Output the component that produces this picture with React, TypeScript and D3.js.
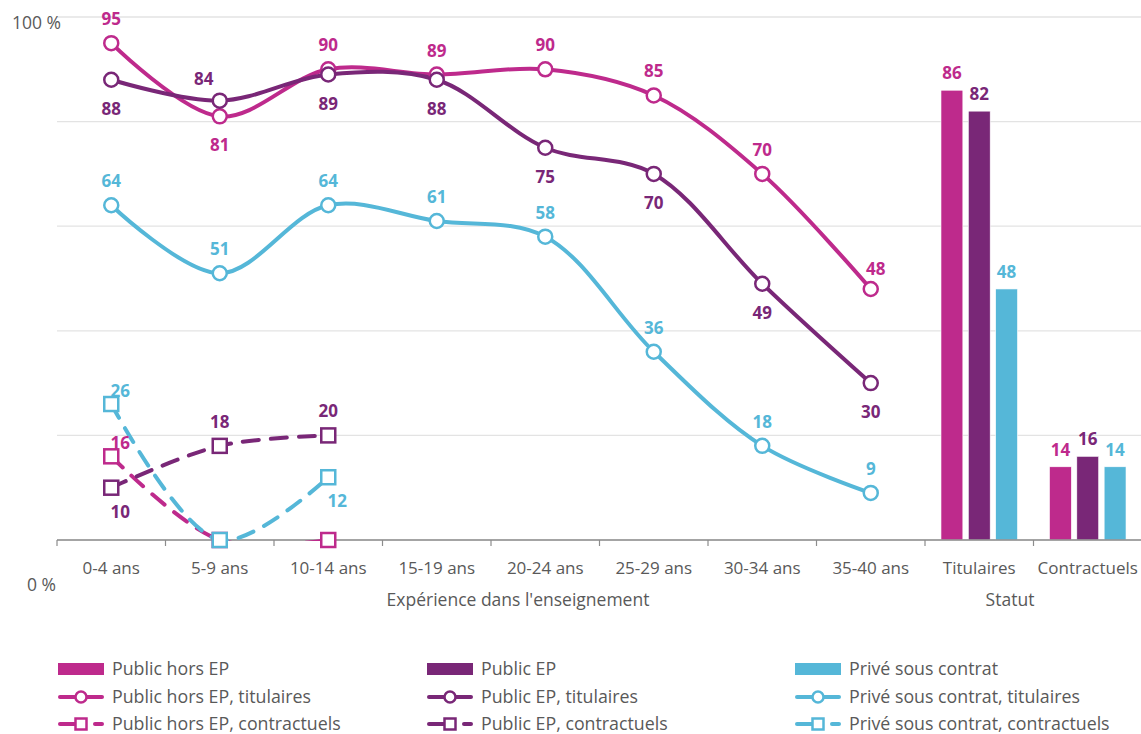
import React from "react";
import * as d3 from "d3";

const categories = ["0-4 ans", "5-9 ans", "10-14 ans", "15-19 ans", "20-24 ans", "25-29 ans", "30-34 ans", "35-40 ans", "Titulaires", "Contractuels"];
const expCategories = categories.slice(0, 8);
const statutCategories = ["Titulaires", "Contractuels"];

const seriesNames = ["Public hors EP", "Public EP", "Privé sous contrat"];
const colors = ["#BE2A8C", "#792777", "#55B7D8"];

// Lines: titulaires by experience
const titHorsEP = [95, 81, 90, 89, 90, 85, 70, 48];
const titEP = [88, 84, 89, 88, 75, 70, 49, 30];
const titPrive = [64, 51, 64, 61, 58, 36, 18, 9];
// Lines: contractuels by experience (first 3 classes)
const conHorsEP = [16, 0, 0];
const conEP = [10, 18, 20];
const conPrive = [26, 0, 12];
// Bars by statut
const barTitulaires = [86, 82, 48];
const barContractuels = [14, 16, 14];

// label placements (per point)
const titHorsEPPlace = ["a", "b", "a", "a", "a", "a", "a", "ar"];
const titEPPlace = ["b", "al", "b", "b", "b", "b", "b", "b"];
const titPrivePlace = ["a", "a", "a", "a", "a", "a", "a", "a"];
const conHorsEPPlace = ["r", "none", "none"];
const conEPPlace = ["br", "a", "a"];
const conPrivePlace = ["r", "none", "br"];

const yTicks = [0, 20, 40, 60, 80, 100];

const W = 1141, H = 734;
const left = 57, right = 1142, y0 = 540, y100 = 17;
const FONT = "'Open Sans', sans-serif";
const TXT = "#595959";

export default function App() {
  const x = d3.scaleBand<string>().domain(categories).range([left, right]).padding(0);
  const y = d3.scaleLinear().domain([0, 100]).range([y0, y100]);
  const cx = (c: string) => (x(c) as number) + x.bandwidth() / 2;
  const inner = d3.scaleBand<string>().domain(seriesNames).range([-41, 41]).paddingInner(0.2).paddingOuter(0.1);

  const line = d3.line<[number, number]>().x(d => d[0]).y(d => d[1]).curve(d3.curveCatmullRom.alpha(0.5));

  const offs: Record<string, [number, number]> = {
    a: [0, -18], b: [0, 35], ar: [5, -14], al: [-16, -16], r: [9, -7], br: [9, 30], none: [0, 0],
  };

  const titSeries = [titHorsEP, titEP, titPrive];
  const titPlace = [titHorsEPPlace, titEPPlace, titPrivePlace];
  const conSeries = [conHorsEP, conEP, conPrive];
  const conPlace = [conHorsEPPlace, conEPPlace, conPrivePlace];

  const pts = (vals: number[]) => vals.map((v, i) => [cx(expCategories[i]), y(v)] as [number, number]);

  const labels: JSX.Element[] = [];
  const addLabels = (vals: number[], place: string[], color: string, key: string) => {
    vals.forEach((v, i) => {
      if (place[i] === "none") return;
      const [dx, dy] = offs[place[i]];
      labels.push(
        <text key={key + i} x={cx(expCategories[i]) + dx} y={y(v) + dy} textAnchor="middle"
          fontFamily={FONT} fontWeight={700} fontSize={17} fill={color}>{v}</text>
      );
    });
  };
  titSeries.forEach((s, k) => addLabels(s, titPlace[k], colors[k], "t" + k));
  conSeries.forEach((s, k) => addLabels(s, conPlace[k], colors[k], "c" + k));

  const legendCols = [58, 427, 795];
  const legendRows = [669, 697, 724];
  const LS = 17.8;

  return (
    <svg width={W} height={H} style={{ position: "absolute", left: 0, top: 0, background: "#fff" }}>
      <defs>
        <clipPath id="plot"><rect x={left} y={0} width={right - left} height={y0 + 1} /></clipPath>
      </defs>
      {yTicks.map(t => (
        <line key={t} x1={left} x2={W} y1={y(t)} y2={y(t)} stroke="#e3e3e3" strokeWidth={1.3} />
      ))}
      <text x={61} y={29} textAnchor="end" fontFamily={FONT} fontSize={17.5} fill={TXT}>100 %</text>
      <text x={56} y={591} textAnchor="end" fontFamily={FONT} fontSize={17.5} fill={TXT}>0 %</text>

      {/* bars */}
      {[barTitulaires, barContractuels].map((vals, gi) =>
        vals.map((v, k) => (
          <rect key={gi + "-" + k} x={cx(statutCategories[gi]) + (inner(seriesNames[k]) as number)} y={y(v)}
            width={inner.bandwidth()} height={y(0) - y(v)} fill={colors[k]} stroke="#fff" strokeWidth={0.6} />
        ))
      )}
      {[barTitulaires, barContractuels].map((vals, gi) =>
        vals.map((v, k) => (
          <text key={"bl" + gi + "-" + k} x={cx(statutCategories[gi]) + (inner(seriesNames[k]) as number) + inner.bandwidth() / 2}
            y={y(v) - 11} textAnchor="middle" fontFamily={FONT} fontWeight={700} fontSize={17} fill={colors[k]}>{v}</text>
        ))
      )}

      {/* axis */}
      <line x1={left} x2={W} y1={y0} y2={y0} stroke="#8c8c8c" strokeWidth={1.5} />
      {d3.range(categories.length + 1).map(i => (
        <line key={"tk" + i} x1={left + i * x.step()} x2={left + i * x.step()} y1={y0} y2={y0 + 6} stroke="#8c8c8c" strokeWidth={1.2} />
      ))}
      {categories.map(c => (
        <text key={c} x={cx(c)} y={574} textAnchor="middle" fontFamily={FONT} fontSize={17} fill={TXT}>{c}</text>
      ))}
      <text x={518} y={606} textAnchor="middle" fontFamily={FONT} fontSize={17.5} fill={TXT}>Expérience dans l'enseignement</text>
      <text x={1010} y={606} textAnchor="middle" fontFamily={FONT} fontSize={17.5} fill={TXT}>Statut</text>

      {/* contractuels dashed lines */}
      <g clipPath="url(#plot)">
        {conSeries.map((s, k) => (
          <path key={"cl" + k} d={line(pts(s)) as string} fill="none" stroke={colors[k]} strokeWidth={4}
            strokeDasharray="16 12" strokeLinecap="round" />
        ))}
      </g>
      {conSeries.map((s, k) => pts(s).map((p, i) => (
        <rect key={"cm" + k + i} x={p[0] - 7} y={p[1] - 7} width={14} height={14} fill="#fff" stroke={colors[k]} strokeWidth={2.5} />
      )))}

      {/* titulaires lines */}
      {titSeries.map((s, k) => (
        <path key={"tl" + k} d={line(pts(s)) as string} fill="none" stroke={colors[k]} strokeWidth={4} />
      ))}
      {titSeries.map((s, k) => pts(s).map((p, i) => (
        <circle key={"tm" + k + i} cx={p[0]} cy={p[1]} r={7} fill="#fff" stroke={colors[k]} strokeWidth={2.5} />
      )))}

      {labels}

      {/* legend */}
      {seriesNames.map((n, k) => {
        const lx = legendCols[k];
        return (
          <g key={"lg" + k} fontFamily={FONT} fontSize={LS} fill={TXT}>
            <rect x={lx} y={legendRows[0] - 6} width={46} height={12} fill={colors[k]} />
            <text x={lx + 54} y={legendRows[0] + 6}>{n}</text>
            <line x1={lx + 2} x2={lx + 44} y1={legendRows[1]} y2={legendRows[1]} stroke={colors[k]} strokeWidth={4} strokeLinecap="round" />
            <circle cx={lx + 23} cy={legendRows[1]} r={5.5} fill="#fff" stroke={colors[k]} strokeWidth={2.5} />
            <text x={lx + 54} y={legendRows[1] + 6}>{n}, titulaires</text>
            <line x1={lx + 2} x2={lx + 22} y1={legendRows[2]} y2={legendRows[2]} stroke={colors[k]} strokeWidth={4} strokeLinecap="round" />
            <line x1={lx + 37} x2={lx + 44} y1={legendRows[2]} y2={legendRows[2]} stroke={colors[k]} strokeWidth={4} strokeLinecap="round" />
            <rect x={lx + 17.5} y={legendRows[2] - 5.5} width={11} height={11} fill="#fff" stroke={colors[k]} strokeWidth={2.5} />
            <text x={lx + 54} y={legendRows[2] + 6}>{n}, contractuels</text>
          </g>
        );
      })}
    </svg>
  );
}
